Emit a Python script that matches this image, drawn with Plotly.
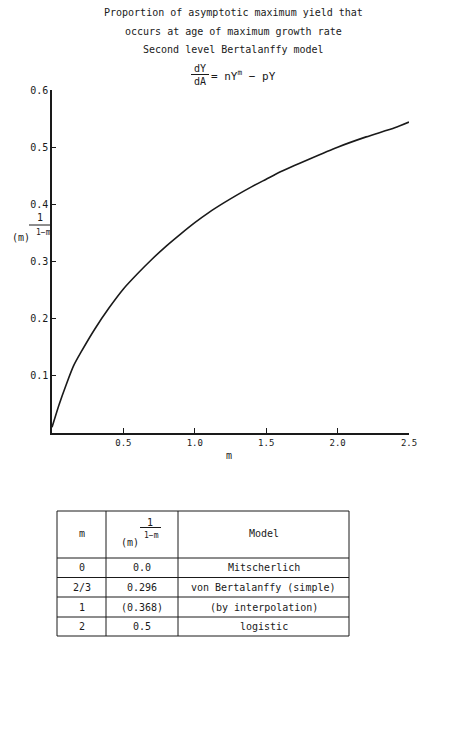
import plotly.graph_objects as go

# ---- data ----
m_values = [0.0, 0.05, 0.1, 0.15, 0.2, 0.3, 0.4, 0.5, 0.6, 0.7, 0.8, 0.9, 1.0,
            1.1, 1.2, 1.3, 1.4, 1.5, 1.6, 1.8, 2.0, 2.2, 2.4, 2.5]
y_values = [0.01, 0.05, 0.085, 0.117, 0.14, 0.182, 0.219, 0.252, 0.279, 0.304,
            0.327, 0.348, 0.368, 0.386, 0.402, 0.417, 0.431, 0.444, 0.457,
            0.479, 0.500, 0.518, 0.534, 0.544]

x_tickvals = [0.5, 1.0, 1.5, 2.0, 2.5]
x_ticktext = ["0.5", "1.0", "1.5", "2.0", "2.5"]
y_tickvals = [0.1, 0.2, 0.3, 0.4, 0.5, 0.6]
y_ticktext = ["0.1", "0.2", "0.3", "0.4", "0.5", "0.6"]

title_lines = ["Proportion of asymptotic maximum yield that",
               "occurs at age of maximum growth rate",
               "Second level Bertalanffy model"]

table_m = ["0", "2/3", "1", "2"]
table_val = ["0.0", "0.296", "(0.368)", "0.5"]
table_model = ["Mitscherlich", "von Bertalanffy (simple)",
               "(by interpolation)", "logistic"]

# ---- layout geometry (pixels) ----
W, H = 470, 730
L, R, T, B = 52, 409, 90, 433
FONT = "DejaVu Sans Mono"
INK = "#1a1a1a"


def px(x):
    return (x - L) / (R - L)


def py(y):
    return (B - y) / (B - T)


fig = go.Figure()
fig.add_trace(go.Scatter(x=m_values, y=y_values, mode="lines",
                         line=dict(color=INK, width=1.6, shape="spline",
                                   smoothing=0.6),
                         hoverinfo="skip", showlegend=False))

annotations = []
shapes = []


def text(x, y, s, size=10, xanchor="center"):
    annotations.append(dict(x=px(x), y=py(y), xref="paper", yref="paper",
                            text=s, showarrow=False, xanchor=xanchor,
                            yanchor="middle",
                            font=dict(family=FONT, size=size, color=INK)))


def hline(x0, x1, y, w=1.0):
    shapes.append(dict(type="line", xref="paper", yref="paper",
                       x0=px(x0), x1=px(x1), y0=py(y), y1=py(y),
                       line=dict(color=INK, width=w)))


def vline(x, y0, y1, w=1.0):
    shapes.append(dict(type="line", xref="paper", yref="paper",
                       x0=px(x), x1=px(x), y0=py(y0), y1=py(y1),
                       line=dict(color=INK, width=w)))


# titles
for i, t in enumerate(title_lines):
    text(233, 13 + 18.3 * i, t)

# formula dY/dA = nY^m - pY
text(200, 68, "dY", size=10)
hline(191, 209, 74.5)
text(200, 81, "dA", size=10)
text(209, 75, "= nY<sup>m</sup> \u2212 pY", size=11, xanchor="left")

# y axis label
text(39.5, 217, "1", size=10)
hline(29, 50, 225)
text(43, 232, "1\u2212m", size=8)
text(21, 237, "(m)", size=10)

# x axis label
text(229, 455, "m", size=10)

# table
TL, TC1, TC2, TR = 57, 106, 178, 349
row_lines = [511, 558, 577.5, 597, 617, 636]
for yy in row_lines:
    hline(TL, TR, yy)
for xx in [TL, TC1, TC2, TR]:
    vline(xx, row_lines[0], row_lines[-1])

c1 = (TL + TC1) / 2
c2 = (TC1 + TC2) / 2
c3 = (TC2 + TR) / 2
text(c1, 533, "m", size=10)
text(c3, 533, "Model")
text(150, 522, "1", size=10)
hline(140, 161, 527.5)
text(151, 535, "1\u2212m", size=8)
text(130, 542, "(m)", size=10)

for i in range(len(table_m)):
    yc = (row_lines[i + 1] + row_lines[i + 2]) / 2
    text(c1, yc, table_m[i])
    text(c2, yc, table_val[i])
    text(c3, yc, table_model[i])

fig.update_layout(
    width=W, height=H, autosize=False,
    margin=dict(l=L, r=W - R, t=T, b=H - B, pad=0),
    paper_bgcolor="white", plot_bgcolor="white",
    annotations=annotations, shapes=shapes,
    font=dict(family=FONT, color=INK),
)
fig.update_xaxes(range=[0, 2.5], tickvals=x_tickvals, ticktext=x_ticktext,
                 showgrid=False, zeroline=False, showline=True,
                 linecolor=INK, linewidth=1.6, ticks="inside", ticklen=5,
                 tickwidth=1.4, tickcolor=INK,
                 tickfont=dict(family=FONT, size=9, color=INK))
fig.update_yaxes(range=[0, 0.6], tickvals=y_tickvals, ticktext=y_ticktext,
                 showgrid=False, zeroline=False, showline=True,
                 linecolor=INK, linewidth=1.6, ticks="inside", ticklen=4,
                 tickwidth=1.4, tickcolor=INK,
                 tickfont=dict(family=FONT, size=10, color=INK))

fig.write_html("out.html")
